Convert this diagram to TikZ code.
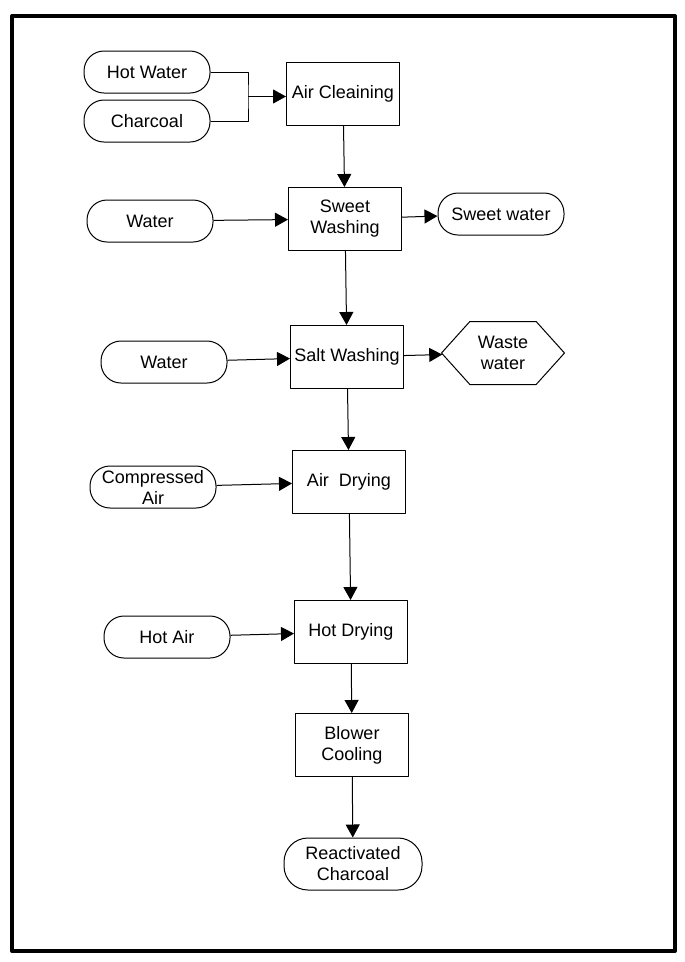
\documentclass[tikz,border=0pt]{standalone}
\usepackage{fontspec}
\setmainfont{Liberation Sans}
\usetikzlibrary{arrows.meta,shapes.symbols}

\tikzset{
  procbox/.style={draw, line width=1pt, minimum width=113pt, minimum height=63pt,
    align=center, inner sep=2pt, font=\fontsize{18}{21}\selectfont},
  termnode/.style={draw, line width=1pt, rounded corners=20pt, minimum width=126pt,
    minimum height=42pt, align=center, inner sep=2pt, font=\fontsize{18}{21}\selectfont},
  wastenode/.style={draw, line width=1pt, signal, signal to=east and west,
    signal pointer angle=96, minimum width=123pt, minimum height=63pt,
    align=center, inner sep=2pt, font=\fontsize{18}{21}\selectfont},
  wire/.style={line width=1pt},
  flow/.style={line width=1pt, -{Triangle[length=13pt,width=14pt]}},
}

\begin{document}
\begin{tikzpicture}[x=1pt, y=-1pt, line join=round]

  %% ════ frame ════
  \draw[line width=4pt] (12,16) rectangle (675,951);

  %% ════ process steps (boxes) ════
  \node[procbox] (aircl)  at (343,94)  {Air Cleaining};
  \node[procbox] (sweet)  at (345,219) {Sweet\\Washing};
  \node[procbox] (salt)   at (347,357) {Salt Washing};
  \node[procbox] (airdry) at (349,482) {Air\ \ Drying};
  \node[procbox] (hotdry) at (351,632) {Hot Drying};
  \node[procbox] (blower) at (352,745) {Blower\\Cooling};

  %% ════ inputs / outputs ════
  \node[termnode] (hotw)   at (147,72)  {Hot Water};
  \node[termnode] (charc)  at (147,121) {Charcoal};
  \node[termnode] (water1) at (150,221) {Water};
  \node[termnode] (sweetw) at (501,214) {Sweet water};
  \node[termnode] (water2) at (164,362) {Water};
  \node[wastenode] (waste) at (503,353) {Waste\\water};
  \node[termnode, inner ysep=0pt] (comp) at (153,487) {Compressed\\Air};
  \node[termnode] (hotair) at (167,637) {Hot Air};
  \node[termnode, minimum width=138pt, minimum height=52pt, rounded corners=24pt]
    (react) at (353,864) {Reactivated\\Charcoal};

  %% ════ connectors ════
  \coordinate (jn) at (248,96.5);
  \draw[wire] (hotw.east) -| (jn) |- (charc.east);
  \draw[flow] (jn) -- (jn -| aircl.west);

  \draw[flow] (aircl) -- (sweet);
  \draw[flow] (water1) -- (sweet);
  \draw[flow] (sweet) -- (sweetw);
  \draw[flow] (sweet) -- (salt);
  \draw[flow] (water2) -- (salt);
  \draw[flow] (salt) -- (waste);
  \draw[flow] (salt) -- (airdry);
  \draw[flow] (comp) -- (airdry);
  \draw[flow] (airdry) -- (hotdry);
  \draw[flow] (hotair) -- (hotdry);
  \draw[flow] (hotdry) -- (blower);
  \draw[flow] (blower) -- (react);

  % fix the canvas to the reference size
  \pgfresetboundingbox
  \path[use as bounding box] (0,0) rectangle (685,962);
\end{tikzpicture}
\end{document}
